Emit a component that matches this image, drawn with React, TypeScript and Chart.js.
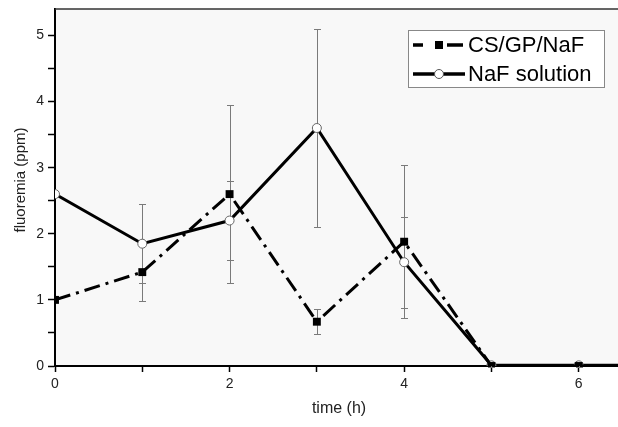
import React, { useEffect, useRef } from "react";
import { Chart, registerables } from "chart.js";

Chart.register(...registerables);

const times = [0, 1, 2, 3, 4, 5, 6, 7];
const csValues = [1.0, 1.42, 2.6, 0.67, 1.88, 0.0, 0.0, 0.0];
const csErrors = [0, 0.44, 1.35, 0.19, 1.16, 0.0, 0.0, 0];
const nafValues = [2.6, 1.85, 2.2, 3.6, 1.57, 0.01, 0.01, 0.01];
const nafErrors = [0, 0.6, 0.6, 1.5, 0.69, 0.02, 0.02, 0];
const seriesNames = ["CS/GP/NaF", "NaF solution"];
const xTickValues = [0, 1, 2, 3, 4, 5, 6];
const yTickValues = [0, 0.5, 1, 1.5, 2, 2.5, 3, 3.5, 4, 4.5, 5];
const xTitle = "time (h)";
const yTitle = "fluoremia (ppm)";

const FONT = "'Liberation Sans', Arial, sans-serif";

const bgPlugin = {
  id: "plotBg",
  beforeDraw(chart: any) {
    const { ctx, chartArea: a } = chart;
    ctx.save();
    ctx.fillStyle = "#f8f8f8";
    ctx.fillRect(a.left, a.top, a.right - a.left, a.bottom - a.top);
    ctx.restore();
  },
  afterDraw(chart: any) {
    const { ctx, chartArea: a } = chart;
    ctx.save();
    ctx.strokeStyle = "#333";
    ctx.lineWidth = 1.5;
    ctx.beginPath();
    ctx.moveTo(a.left, a.top);
    ctx.lineTo(a.right, a.top);
    ctx.stroke();

    // axis titles
    ctx.fillStyle = "#222";
    ctx.textAlign = "center";
    ctx.textBaseline = "middle";
    ctx.font = `16px ${FONT}`;
    ctx.fillText(xTitle, 339, 409);
    ctx.translate(21, 180);
    ctx.rotate(-Math.PI / 2);
    ctx.font = `15px ${FONT}`;
    ctx.fillText(yTitle, 0, 0);
    ctx.restore();
  },
};

const errPlugin = {
  id: "errBars",
  beforeDatasetsDraw(chart: any) {
    const { ctx } = chart;
    const xs = chart.scales.x;
    const ys = chart.scales.y;
    const sets = [
      [csValues, csErrors],
      [nafValues, nafErrors],
    ];
    ctx.save();
    ctx.strokeStyle = "#7a7a7a";
    ctx.lineWidth = 1;
    const a = chart.chartArea;
    ctx.beginPath();
    ctx.rect(a.left, a.top - 5, a.right - a.left, a.bottom - a.top + 10);
    ctx.clip();
    sets.forEach(([vals, errs]) => {
      vals.forEach((v: number, i: number) => {
        const e = errs[i];
        if (!e) return;
        const px = Math.round(xs.getPixelForValue(times[i])) + 0.5;
        const y1 = Math.round(ys.getPixelForValue(v + e)) + 0.5;
        const y2 = Math.round(ys.getPixelForValue(v - e)) + 0.5;
        ctx.beginPath();
        ctx.moveTo(px, y1);
        ctx.lineTo(px, y2);
        ctx.moveTo(px - 3.5, y1);
        ctx.lineTo(px + 3.5, y1);
        ctx.moveTo(px - 3.5, y2);
        ctx.lineTo(px + 3.5, y2);
        ctx.stroke();
      });
    });
    ctx.restore();
  },
};

const legendPlugin = {
  id: "innerLegend",
  afterDraw(chart: any) {
    const { ctx } = chart;
    const bx = 408, by = 30, bw = 196, bh = 57;
    ctx.save();
    ctx.fillStyle = "#ffffff";
    ctx.fillRect(bx, by, bw, bh);
    ctx.strokeStyle = "#888";
    ctx.lineWidth = 1;
    ctx.strokeRect(bx + 0.5, by + 0.5, bw, bh);

    const y1 = 45;
    ctx.strokeStyle = "#000";
    ctx.lineWidth = 3.5;
    ctx.beginPath();
    ctx.moveTo(413, y1);
    ctx.lineTo(423, y1);
    ctx.moveTo(447, y1);
    ctx.lineTo(463, y1);
    ctx.stroke();
    ctx.fillStyle = "#000";
    ctx.fillRect(435, y1 - 4, 8, 8);

    const y2 = 74;
    ctx.beginPath();
    ctx.moveTo(413, y2);
    ctx.lineTo(465, y2);
    ctx.stroke();
    ctx.beginPath();
    ctx.arc(439, y2, 4.5, 0, Math.PI * 2);
    ctx.fillStyle = "#fff";
    ctx.fill();
    ctx.strokeStyle = "#555";
    ctx.lineWidth = 1;
    ctx.stroke();

    ctx.fillStyle = "#000";
    ctx.font = `22px ${FONT}`;
    ctx.textBaseline = "middle";
    ctx.textAlign = "left";
    ctx.fillText(seriesNames[0], 468, y1 + 1);
    ctx.fillText(seriesNames[1], 468, y2 + 1);
    ctx.restore();
  },
};

export default function App() {
  const ref = useRef<HTMLCanvasElement | null>(null);
  useEffect(() => {
    document.body.style.margin = "0";
    const canvas = ref.current!;
    const chart = new Chart(canvas, {
      type: "line",
      data: {
        datasets: [
          {
            label: seriesNames[0],
            data: times.map((t, i) => ({ x: t, y: csValues[i] })),
            borderColor: "#000",
            backgroundColor: "#000",
            borderWidth: 3,
            borderDash: [16, 6, 3, 6],
            pointStyle: "rect",
            pointRadius: 5.6,
            pointBorderWidth: 0,
            pointBackgroundColor: "#000",
            tension: 0,
          },
          {
            label: seriesNames[1],
            data: times.map((t, i) => ({ x: t, y: nafValues[i] })),
            borderColor: "#000",
            borderWidth: 3,
            pointStyle: "circle",
            pointRadius: 4.5,
            pointBorderWidth: 1,
            pointBorderColor: "#666",
            pointBackgroundColor: "#fff",
            tension: 0,
          },
        ],
      },
      options: {
        animation: false,
        responsive: false,
        maintainAspectRatio: false,
        layout: { autoPadding: false, padding: { top: 9, right: 0, left: 0, bottom: 0 } },
        plugins: { legend: { display: false }, tooltip: { enabled: false } },
        scales: {
          x: {
            type: "linear",
            min: 0,
            max: 6.45,
            afterBuildTicks(scale: any) {
              scale.ticks = xTickValues.map((v) => ({ value: v }));
            },
            afterFit(scale: any) {
              scale.height = 61;
              scale.paddingRight = 0;
            },
            ticks: {
              autoSkip: false,
              maxRotation: 0,
              padding: 4,
              color: "#222",
              font: { family: FONT, size: 14 },
              callback: (v: any) => (Number(v) % 2 === 0 ? String(v) : ""),
            },
            grid: { drawOnChartArea: false, drawTicks: true, tickLength: 6, tickColor: "#000", tickWidth: 1.5 },
            border: { color: "#000", width: 2 },
            title: { display: false },
          },
          y: {
            type: "linear",
            min: 0,
            max: 5.4,
            afterBuildTicks(scale: any) {
              scale.ticks = yTickValues.map((v) => ({ value: v }));
            },
            afterFit(scale: any) {
              scale.width = 55;
              scale.paddingTop = 0;
            },
            ticks: {
              autoSkip: false,
              padding: 4,
              color: "#222",
              font: { family: FONT, size: 14 },
              callback: (v: any) => (Number.isInteger(Number(v)) ? String(v) : ""),
            },
            grid: { drawOnChartArea: false, drawTicks: true, tickLength: 7, tickColor: "#000", tickWidth: 1.5 },
            border: { color: "#000", width: 2 },
            title: { display: false },
          },
        },
      },
      plugins: [bgPlugin, errPlugin, legendPlugin],
    } as any);
    return () => chart.destroy();
  }, []);
  return <canvas ref={ref} width={618} height={427} style={{ display: "block" }} />;
}
